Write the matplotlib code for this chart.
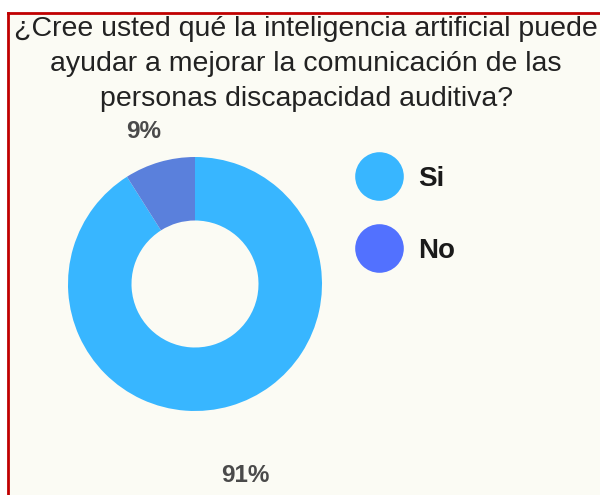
import matplotlib
matplotlib.use("Agg")
import matplotlib.pyplot as plt
import numpy as np
from matplotlib.lines import Line2D
from matplotlib.patches import Rectangle

plt.rcParams['font.family'] = ['Liberation Sans', 'DejaVu Sans']

# survey answers
categories = ["Si", "No"]
percentages = [91, 9]
wedge_colors = ["#38b6ff", "#5a80dc"]
legend_colors = ["#38b6ff", "#5271ff"]
title_lines = ["¿Cree usted qué la inteligencia artificial puede",
               "ayudar a mejorar la comunicación de las",
               "personas discapacidad auditiva?"]

W, H = 600, 495
fig = plt.figure(figsize=(W / 100, H / 100), dpi=100)
fig.patch.set_facecolor("white")

# cream panel with a red frame on top and left
fig.add_artist(Rectangle((8 / W, 0), 1 - 8 / W, 1 - 13 / H, transform=fig.transFigure,
                         facecolor="#fbfbf4", edgecolor="none", zorder=0))
fig.add_artist(Line2D([8 / W, 1], [1 - 13 / H, 1 - 13 / H], color="#c00000", lw=2))
fig.add_artist(Line2D([8 / W, 8 / W], [0, 1 - 13 / H], color="#c00000", lw=2))

for i, line in enumerate(title_lines):
    fig.text(306 / W, 1 - (36 + 35 * i) / H, line, ha="center", va="baseline",
             fontsize=20.5, color="#222222", family="Liberation Sans")

# donut
cx, cy, R = 195, 284, 127
ax = fig.add_axes([(cx - R) / W, (H - cy - R) / H, 2 * R / W, 2 * R / H])
ax.set_facecolor("none")
wedges, _ = ax.pie(percentages, colors=wedge_colors, startangle=90, counterclock=False,
                   radius=1, wedgeprops=dict(width=0.5, edgecolor="none"))
ax.set_xlim(-1, 1)
ax.set_ylim(-1, 1)
ax.set_aspect("equal")
ax.axis("off")

# percentage labels outside each wedge
label_dist = [1.56, 1.27]
label_turn = [-1.5, 2.5]
for w, p, d, t in zip(wedges, percentages, label_dist, label_turn):
    ang = np.deg2rad((w.theta1 + w.theta2) / 2 + t)
    ax.text(d * np.cos(ang), d * np.sin(ang), f"{p}%", ha="center", va="center",
            fontsize=17.5, fontweight="bold", color="#4a4a4a", family="Liberation Sans",
            clip_on=False)

handles = [Line2D([], [], marker="o", linestyle="none", markersize=35,
                  markerfacecolor=c, markeredgecolor="none") for c in legend_colors]
fig.legend(handles, categories, loc="upper left", bbox_to_anchor=(346 / W, 1 - 152 / H),
           frameon=False, prop=dict(family="Liberation Sans", size=20, weight="bold"),
           labelspacing=1.65, handletextpad=0.75, borderpad=0, handlelength=1.35,
           labelcolor="#1a1a1a")

fig.savefig("out.png", dpi=100, facecolor=fig.get_facecolor())
